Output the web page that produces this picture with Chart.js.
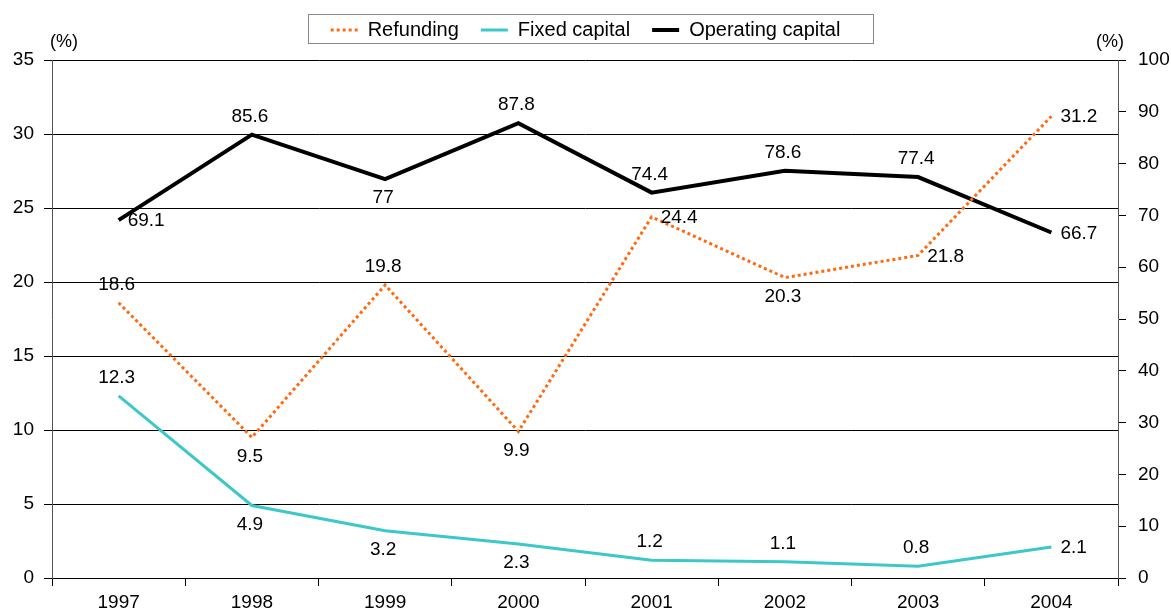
<!DOCTYPE html>
<html>
<head>
<meta charset="utf-8">
<script src="https://cdn.jsdelivr.net/npm/chart.js@4/dist/chart.umd.min.js"></script>
<style>
  html, body { margin: 0; padding: 0; background: #fff; }
  #wrap { width: 1171px; height: 610px; }
</style>
</head>
<body>
<div id="wrap"><canvas id="chart"></canvas></div>
<script>
// data
var years = ['1997', '1998', '1999', '2000', '2001', '2002', '2003', '2004'];
var refunding = [18.6, 9.5, 19.8, 9.9, 24.4, 20.3, 21.8, 31.2];
var fixedCapital = [12.3, 4.9, 3.2, 2.3, 1.2, 1.1, 0.8, 2.1];
var operatingCapital = [69.1, 85.6, 77, 87.8, 74.4, 78.6, 77.4, 66.7];

// where each value label sits relative to its point
var refundingPos = ['top', 'bottom', 'top', 'bottom', 'right', 'bottom', 'right', 'right'];
var fixedPos = ['top', 'bottom', 'bottom', 'bottom', 'top', 'top', 'top', 'right'];
var operatingPos = ['right', 'top', 'bottom', 'top', 'top', 'top', 'top', 'right'];

var FONT = '"Liberation Sans", Arial, sans-serif';

var valueLabels = {
  id: 'valueLabels',
  afterDatasetsDraw: function(chart) {
    var ctx = chart.ctx;
    ctx.save();
    ctx.font = '19px ' + FONT;
    ctx.fillStyle = '#000';
    ctx.textBaseline = 'middle';
    chart.data.datasets.forEach(function(ds, di) {
      var meta = chart.getDatasetMeta(di);
      meta.data.forEach(function(pt, i) {
        var p = ds.labelPos[i];
        var txt = String(ds.data[i]);
        if (p === 'right') {
          ctx.textAlign = 'left';
          ctx.fillText(txt, pt.x + 9, pt.y + 1);
        } else if (p === 'top') {
          ctx.textAlign = 'center';
          ctx.fillText(txt, pt.x - 2, pt.y - 18);
        } else {
          ctx.textAlign = 'center';
          ctx.fillText(txt, pt.x - 2, pt.y + 19);
        }
      });
    });
    ctx.restore();
  }
};

var extras = {
  id: 'extras',
  afterLayout: function(chart) {
    // lift the legend into its frame above the plot
    chart.legend.top -= 10;
    chart.legend.bottom -= 10;
  },
  afterDraw: function(chart) {
    var ctx = chart.ctx;
    ctx.save();
    // (%) unit labels
    ctx.font = '18px ' + FONT;
    ctx.fillStyle = '#000';
    ctx.textAlign = 'center';
    ctx.textBaseline = 'middle';
    ctx.fillText('(%)', 64, 42);
    ctx.fillText('(%)', 1110, 42);
    // legend frame
    ctx.strokeStyle = '#888';
    ctx.lineWidth = 1;
    ctx.strokeRect(308.5, 14.5, 565, 29);
    ctx.restore();
  }
};

var ctx = document.getElementById('chart');
var chart = new Chart(ctx, {
  type: 'line',
  data: {
    labels: years,
    datasets: [{
      label: 'Refunding',
      data: refunding,
      labelPos: refundingPos,
      yAxisID: 'y',
      borderColor: '#ff6a10',
      backgroundColor: '#ff6a10',
      borderWidth: 3,
      borderDash: [3, 3],
      pointRadius: 0,
      tension: 0,
      fill: false
    }, {
      label: 'Fixed capital',
      data: fixedCapital,
      labelPos: fixedPos,
      yAxisID: 'y',
      borderColor: '#3cc8c8',
      backgroundColor: '#3cc8c8',
      borderWidth: 3,
      pointRadius: 0,
      tension: 0,
      fill: false
    }, {
      label: 'Operating capital',
      data: operatingCapital,
      labelPos: operatingPos,
      yAxisID: 'y2',
      borderColor: '#000',
      backgroundColor: '#000',
      borderWidth: 4,
      pointRadius: 0,
      tension: 0,
      fill: false
    }]
  },
  options: {
    responsive: true,
    maintainAspectRatio: false,
    animation: false,
    layout: {
      padding: { top: -2, left: 0, right: 0, bottom: 0 }
    },
    plugins: {
      legend: {
        display: true,
        position: 'top',
        labels: {
          color: '#000',
          font: { family: FONT, size: 20 },
          usePointStyle: true,
          pointStyle: 'line',
          pointStyleWidth: 27,
          boxHeight: 10,
          padding: 22,
          generateLabels: function(chart) {
            var items = Chart.defaults.plugins.legend.labels.generateLabels(chart);
            items.forEach(function(it) {
              var ds = chart.data.datasets[it.datasetIndex];
              it.lineWidth = ds.borderWidth;
              it.lineDash = ds.borderDash || [];
              it.strokeStyle = ds.borderColor;
              it.fillStyle = ds.borderColor;
            });
            return items;
          }
        }
      },
      tooltip: { enabled: false }
    },
    scales: {
      x: {
        offset: true,
        grid: {
          offset: true,
          drawOnChartArea: false,
          color: '#000',
          tickLength: 8
        },
        border: { color: '#000', width: 1 },
        ticks: {
          color: '#000',
          font: { family: FONT, size: 19 },
          padding: 5,
          maxRotation: 0
        },
        afterFit: function(s) { s.height = 32; }
      },
      y: {
        position: 'left',
        min: 0,
        max: 35,
        ticks: {
          stepSize: 5,
          color: '#000',
          font: { family: FONT, size: 19 },
          padding: 10
        },
        grid: {
          color: '#000',
          lineWidth: 1,
          tickLength: 8
        },
        border: { color: '#555', width: 1 },
        afterFit: function(s) { s.width = 52; s.paddingTop = 60; }
      },
      y2: {
        position: 'right',
        min: 0,
        max: 100,
        ticks: {
          stepSize: 10,
          color: '#000',
          font: { family: FONT, size: 19 },
          padding: 12
        },
        grid: {
          drawOnChartArea: false,
          color: '#000',
          tickLength: 8
        },
        border: { color: '#555', width: 1 },
        afterFit: function(s) { s.width = 53; }
      }
    }
  },
  plugins: [valueLabels, extras]
});
</script>
</body>
</html>
